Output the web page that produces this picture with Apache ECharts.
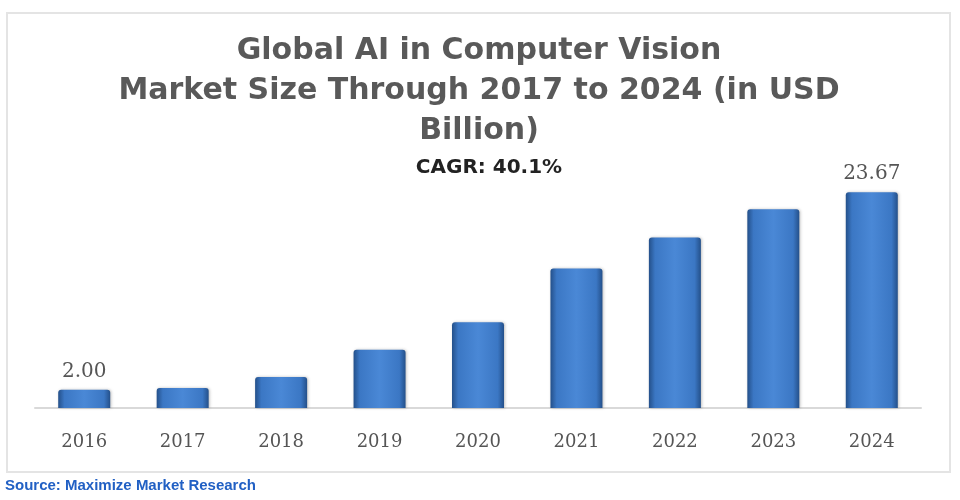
<!DOCTYPE html>
<html><head><meta charset="utf-8">
<script src="https://cdn.jsdelivr.net/npm/echarts@6/dist/echarts.min.js"></script>
<style>html,body{margin:0;padding:0;background:#fff}#c{width:960px;height:500px}</style>
</head><body><div id="c"></div>
<script>
const categories = ['2016','2017','2018','2019','2020','2021','2022','2023','2024'];
const marketSize = [2.00, 2.2, 3.4, 6.4, 9.4, 15.3, 18.7, 21.8, 23.67];
const labelledIndices = [0, 8];
const titleText = 'Global AI in Computer Vision\nMarket Size Through 2017 to 2024 (in USD\nBillion)';
const subtitleText = 'CAGR: 40.1%';
const sourceText = 'Source: Maximize Market Research';

const chart = echarts.init(document.getElementById('c'), null, {renderer: 'canvas'});
const barColor = new echarts.graphic.LinearGradient(0, 0, 1, 0, [
  {offset: 0, color: '#24508a'},
  {offset: 0.12, color: '#3b77c4'},
  {offset: 0.5, color: '#4a88d6'},
  {offset: 0.88, color: '#3b77c4'},
  {offset: 1, color: '#24508a'}
]);
chart.setOption({
  animation: false,
  backgroundColor: '#fff',
  graphic: [
    {type: 'rect', shape: {x: 7, y: 13, width: 943, height: 459}, style: {fill: 'none', stroke: '#e4e4e4', lineWidth: 2}, z: -1},
    {type: 'text', x: 479, y: 31, style: {text: titleText, font: 'bold 30px "DejaVu Sans"', fill: '#595959', align: 'center', textAlign: 'center', lineHeight: 40}},
    {type: 'text', x: 489, y: 158, style: {text: subtitleText, font: 'bold 20px "DejaVu Sans"', fill: '#222', align: 'center', textAlign: 'center'}},
    {type: 'text', left: 5, top: 478, style: {text: sourceText, font: 'bold 15px "Liberation Sans"', fill: '#2160c4'}}
  ],
  grid: {left: 35, right: 39, top: 171, bottom: 92, containLabel: false},
  xAxis: {
    type: 'category', data: categories,
    axisLine: {lineStyle: {color: '#d9d9d9', width: 2}},
    axisTick: {show: false},
    axisLabel: {color: '#555', fontFamily: 'DejaVu Serif', fontSize: 18, margin: 25}
  },
  yAxis: {type: 'value', min: 0, max: 26, show: false, splitLine: {show: false}},
  series: [{
    type: 'bar', data: marketSize.map((v, i) => ({
      value: v,
      label: {show: labelledIndices.includes(i)}
    })),
    barWidth: 52,
    itemStyle: {color: barColor, borderRadius: [3, 3, 0, 0], shadowColor: 'rgba(0,0,0,0.25)', shadowBlur: 3, shadowOffsetX: 1},
    label: {position: 'top', distance: 8, color: '#555', fontFamily: 'DejaVu Serif', fontSize: 20,
      formatter: p => p.value.toFixed(2)}
  }]
});
</script></body></html>
